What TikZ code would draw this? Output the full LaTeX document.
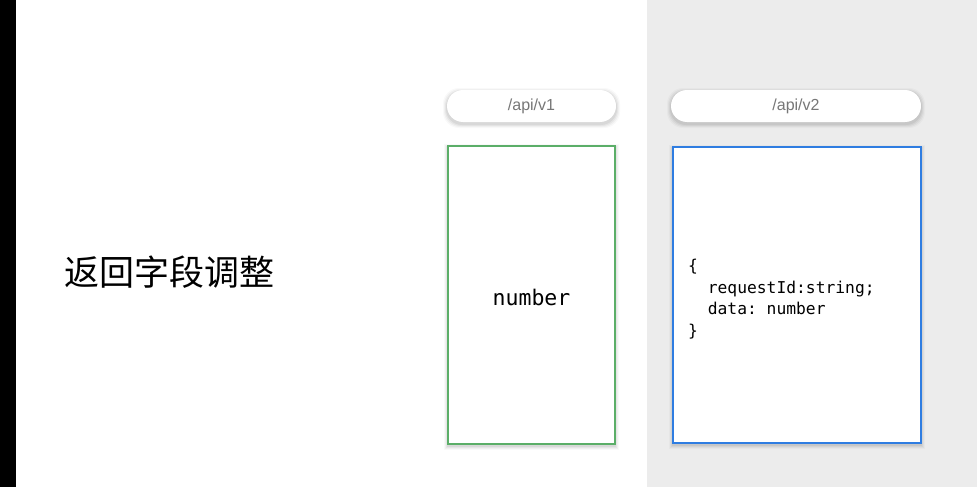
\documentclass[tikz,border=0pt]{standalone}
\usepackage{fontspec}
\setmainfont{Liberation Sans}
\setmonofont{DejaVu Sans Mono}
\newfontfamily\cjk{Noto Sans CJK SC}
\definecolor{panelgray}{HTML}{ECECEC}
\definecolor{boxgreen}{HTML}{5BAE68}
\definecolor{boxblue}{HTML}{2F7DE1}
\definecolor{pilltext}{HTML}{777777}
\tikzset{
  pill/.style={draw=none, fill=white, rounded corners=16pt, minimum height=32pt, inner sep=0pt,
    font=\fontsize{16}{18}\selectfont, text=pilltext},
  card/.style={fill=white, line width=2pt, inner sep=0pt, anchor=north west},
}
\newcommand{\softshadow}[5]{% x1 y1 x2 y2 radius
  \foreach \s/\o in {4/0.025,3/0.035,2/0.045,1/0.055}{
    \fill[black, opacity=\o, rounded corners=#5] (#1-\s, #2-\s+2) rectangle (#3+\s, #4+\s+2);
  }
}
\begin{document}
\begin{tikzpicture}[x=1pt,y=-1pt]
\useasboundingbox (0,0) rectangle (977,487);
\fill[white] (0,0) rectangle (977,487);
\fill[panelgray] (647,0) rectangle (977,487);
\fill[black] (0,0) rectangle (16,487);

\node[anchor=west, font=\cjk\fontsize{35}{40}\selectfont] (title) at (61,272) {返回字段调整};

% shadows
\softshadow{447}{90}{616}{122}{16pt}
\softshadow{671}{90}{921}{122}{16pt}
\softshadow{448}{146}{615}{444}{0pt}
\softshadow{673}{147}{921}{443}{0pt}

\node[pill, minimum width=169pt] (v1) at (531.5,106) {\raisebox{-1pt}{/api/v1}};
\node[pill, minimum width=250pt] (v2) at (796,106) {\raisebox{-1pt}{/api/v2}};

\draw[card, draw=boxgreen] (448,146) rectangle (615,444);
\node[font=\ttfamily\fontsize{21.5}{24}\selectfont] (num) at (531.5,297) {number};

\draw[card, draw=boxblue] (673,147) rectangle (921,443);
\node[anchor=north west, align=left, inner sep=0pt, font=\ttfamily\fontsize{16.3}{21.6}\selectfont] (code) at (688,259)
  {\{\\\ \ requestId:string;\\\ \ data: number\\\}};
\end{tikzpicture}
\end{document}
